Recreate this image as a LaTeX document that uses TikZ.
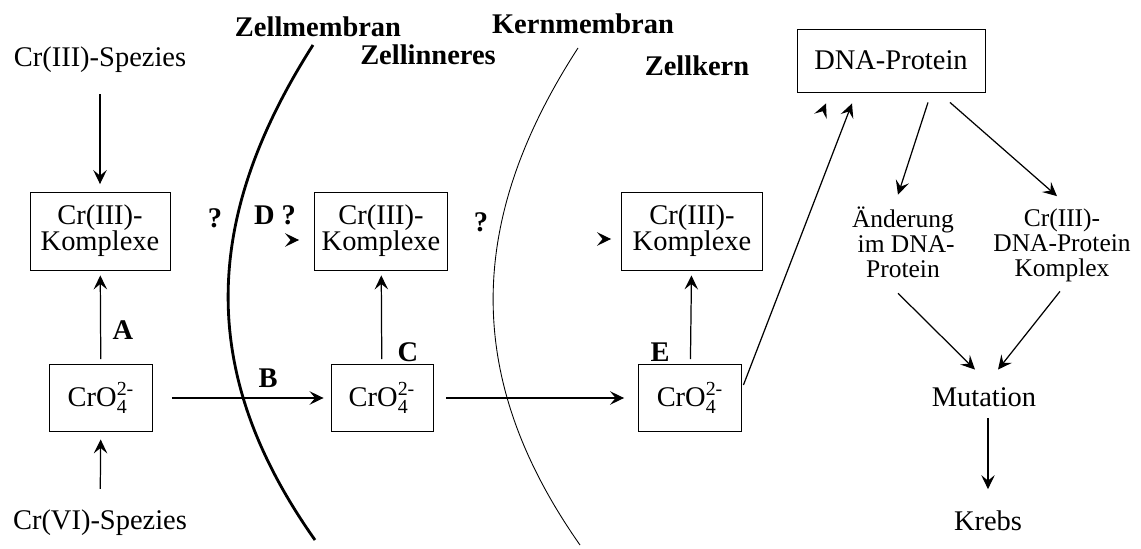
\documentclass[tikz,border=0pt]{standalone}
\usepackage{amsmath}
\usepackage{fontspec}
\setmainfont{Liberation Serif}
\usetikzlibrary{arrows.meta}

\tikzset{
  kasten/.style={draw,line width=0.5pt,align=center,inner sep=0pt},
  eng/.style={font=\fontsize{16.2}{14.8}\selectfont},
  klein/.style={font=\fontsize{14.5}{14.2}\selectfont},
  txt/.style={inner sep=0pt,align=center},
  pfeil/.style={-{Stealth[length=2.8mm,width=2.7mm,inset=1.1mm]},line width=0.7pt},
  lab/.style={font=\fontsize{16.2}{16}\selectfont\bfseries}
}
\newcommand{\chromat}{CrO$_{\text{4}}^{\text{2-}}$}

\begin{document}
\begin{tikzpicture}[font=\fontsize{16.2}{16}\selectfont]
  \useasboundingbox (0,0) rectangle (22.82,10.96);

  % Membranen
  \draw[line width=1.6pt] (6.26,10.06) .. controls (3.99,6.5) and (3.99,3.43) .. (6.3,0.16);
  \draw[line width=0.5pt] (11.56,10.0) .. controls (9.29,6.5) and (9.29,3.35) .. (11.6,0.06);
  \node[lab] (zm) at (6.36,10.42) {Zellmembran};
  \node[lab] (km) at (11.66,10.48) {Kernmembran};
  \node[lab] (zi) at (8.56,9.86) {Zellinneres};
  \node[lab] (zk) at (13.94,9.64) {Zellkern};

  % aussen
  \node (sp3) at (2.0,9.76) {Cr(III)-Spezies};
  \node[kasten,eng,minimum width=2.8cm,minimum height=1.56cm] (k1) at (2.0,6.34) {Cr(III)-\\Komplexe};
  \node[kasten,minimum width=2.06cm,minimum height=1.34cm] (c1) at (2.02,3.0) {\chromat};
  \node (sp6) at (2.0,0.5) {Cr(VI)-Spezies};
  \node[lab] (q1) at (4.3,6.6) {?};
  \node[lab] (la) at (2.46,4.36) {A};
  \draw[pfeil,shorten <=0.3cm,shorten >=0.15cm] (sp3) -- (k1);
  \draw[pfeil,shorten <=0.1cm,shorten >=0.1cm] (c1) -- (k1);
  \draw[pfeil,shorten <=0.3cm,shorten >=0.15cm] (sp6) -- (c1);

  % Zellinneres
  \node[kasten,eng,minimum width=2.66cm,minimum height=1.56cm] (k2) at (7.62,6.34) {Cr(III)-\\Komplexe};
  \node[kasten,minimum width=2.04cm,minimum height=1.34cm] (c2) at (7.64,3.0) {\chromat};
  \node[lab] (lb) at (5.36,3.4) {B};
  \node[lab] (lc) at (8.16,3.92) {C};
  \node[lab] (ld) at (5.5,6.66) {D ?};
  \node[lab] (q2) at (9.62,6.52) {?};
  \draw[pfeil,shorten <=0.38cm,shorten >=0.14cm] (c1) -- (c2);
  \draw[pfeil,shorten <=0.1cm,shorten >=0.1cm] (c2) -- (k2);
  \draw[pfeil] ([xshift=-0.36cm,yshift=-0.18cm]k2.west) -- ([xshift=-0.3cm,yshift=-0.18cm]k2.west);

  % Zellkern
  \node[kasten,eng,minimum width=2.82cm,minimum height=1.56cm] (k3) at (13.84,6.34) {Cr(III)-\\Komplexe};
  \node[kasten,minimum width=2.06cm,minimum height=1.34cm] (c3) at (13.8,3.0) {\chromat};
  \node[lab] (le) at (13.2,3.92) {E};
  \draw[pfeil,shorten <=0.26cm,shorten >=0.28cm] (c2) -- (c3);
  \draw[pfeil,shorten <=0.1cm,shorten >=0.1cm] (c3) -- (k3);
  \draw[pfeil] ([xshift=-0.26cm,yshift=-0.16cm]k3.west) -- ([xshift=-0.2cm,yshift=-0.16cm]k3.west);

  % DNA
  \node[kasten,minimum width=3.76cm,minimum height=1.26cm] (dna) at (17.82,9.75) {DNA-Protein};
  \node[txt,klein] (aend) at (18.06,6.11) {Änderung\\ \ im DNA-\\Protein};
  \node[txt,klein] (cdna) at (21.24,6.06) {Cr(III)-\\DNA-Protein\\Komplex};
  \node[txt] (mut) at (19.68,3.01) {Mutation};
  \node[txt] (krebs) at (19.76,0.55) {Krebs};
  \draw[pfeil] ([xshift=0.03cm,yshift=0.26cm]c3.east) -- ([xshift=-0.78cm,yshift=-0.22cm]dna.south);
  \draw[pfeil] ([xshift=-1.33cm,yshift=-0.29cm]dna.south) -- ([xshift=-1.30cm,yshift=-0.22cm]dna.south);
  \draw[pfeil] ([xshift=0.74cm,yshift=-0.2cm]dna.south) -- ([xshift=-0.1cm,yshift=0.24cm]aend.north);
  \draw[pfeil] ([xshift=1.18cm,yshift=-0.2cm]dna.south) -- ([xshift=-0.1cm,yshift=0.24cm]cdna.north);
  \draw[pfeil] ([xshift=-0.1cm,yshift=-0.3cm]aend.south) -- ([xshift=-0.18cm,yshift=0.36cm]mut.north);
  \draw[pfeil] ([xshift=-0.04cm,yshift=-0.19cm]cdna.south) -- ([xshift=0.28cm,yshift=0.36cm]mut.north);
  \draw[pfeil] ([yshift=-0.22cm]mut.south -| krebs.north) -- ([yshift=0.42cm]krebs.north);
\end{tikzpicture}
\end{document}
